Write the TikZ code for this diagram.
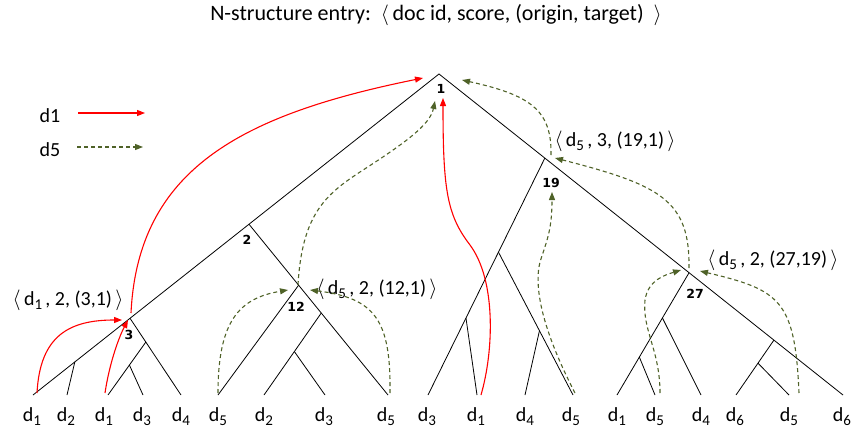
\documentclass[tikz,border=0pt]{standalone}
\usepackage{fontspec}
\setmainfont{Carlito}
\newfontfamily\numfont{DejaVu Sans}
\usetikzlibrary{arrows.meta,calc}
\definecolor{dgreen}{RGB}{79,98,40}
\newcommand{\sbs}[1]{\raisebox{-4pt}{\fontsize{15}{15}\selectfont #1}}
\newcommand{\lang}{$\langle$}
\newcommand{\rang}{$\rangle$}
\begin{document}
\begin{tikzpicture}[x=1pt,y=-1pt,
  tree/.style={draw=black,line width=0.8pt},
  rarr/.style={draw=red,line width=1.1pt,-{Triangle[length=8pt,width=6pt]}},
  garr/.style={draw=dgreen,line width=1.1pt,dash pattern=on 4pt off 3pt,-{Triangle[length=8pt,width=6pt]}},
  lbl/.style={font=\fontsize{20}{20}\selectfont,inner sep=0pt,anchor=base},
  num/.style={font=\fontsize{12.5}{12.5}\selectfont\numfont\bfseries,inner sep=0pt}]
\useasboundingbox (0,0) rectangle (852,434);
% title
\node[lbl,font=\fontsize{22}{22}\selectfont] (title) at (436,20) {N-structure entry:\ \ \lang\,doc id, score, (origin, target)\ \ \rang};
% legend
\node[lbl] (lg1) at (50,122) {d1};
\node[lbl] (lg5) at (50,156) {d5};
\coordinate (lr1s) at (78,113); \coordinate (lr1e) at (145,113);
\coordinate (lg5s) at (77,147); \coordinate (lg5e) at (143,147);
\draw[rarr] (lr1s) -- (lr1e);
\draw[garr] (lg5s) -- (lg5e);
% tree coordinates
\coordinate (R) at (439,74);
\coordinate (LL) at (33,395);
\coordinate (RR) at (843,395);
\coordinate (N2) at ($(R)!0.468!(LL)$);
\coordinate (N3) at ($(R)!0.761!(LL)$);
\coordinate (Jd2) at ($(R)!0.897!(LL)$);
\coordinate (l2) at (67,395);
\coordinate (l3) at (108,395);
\coordinate (l4) at (143,395);
\coordinate (l5) at (181,395);
\coordinate (J3a) at ($(N3)!0.31!(l5)$);
\coordinate (J3b) at ($(J3a)!0.434!(l3)$);
\coordinate (l9) at (388,395);
\coordinate (l6) at (218,395);
\coordinate (l7) at (264,395);
\coordinate (l8) at (325,395);
\coordinate (N12) at ($(N2)!0.357!(l9)$);
\coordinate (J12b) at ($(N2)!0.52!(l9)$);
\coordinate (J12c) at ($(J12b)!0.47!(l7)$);
\coordinate (N19) at ($(R)!0.262!(RR)$);
\coordinate (N27) at ($(R)!0.619!(RR)$);
\coordinate (Jr) at ($(R)!0.829!(RR)$);
\coordinate (l10) at (428,395);
\coordinate (l11) at (477,395);
\coordinate (l12) at (525,395);
\coordinate (l13) at (573,395);
\coordinate (J19a) at ($(N19)!0.397!(l10)$);
\coordinate (J19b) at ($(N19)!0.675!(l10)$);
\coordinate (J19c) at ($(J19a)!0.55!(l13)$);
\coordinate (l14) at (617,395);
\coordinate (l15) at (655,395);
\coordinate (l16) at (701,395);
\coordinate (J27a) at ($(N27)!0.37!(l14)$);
\coordinate (J27b) at ($(N27)!0.69!(l14)$);
\coordinate (l17) at (736,395);
\coordinate (l18) at (789,395);
\coordinate (Jr2) at ($(Jr)!0.42!(l17)$);
% tree lines
\draw[tree] (LL) -- (R) -- (RR);
\draw[tree] (Jd2) -- (l2);
\draw[tree] (N3) -- (l5);
\draw[tree] (J3a) -- (l3);
\draw[tree] (J3b) -- (l4);
\draw[tree] (N2) -- (l9);
\draw[tree] (N12) -- (l6);
\draw[tree] (J12b) -- (l7);
\draw[tree] (J12c) -- (l8);
\draw[tree] (N19) -- (l10);
\draw[tree] (J19a) -- (l13);
\draw[tree] (J19b) -- (l11);
\draw[tree] (J19c) -- (l12);
\draw[tree] (N27) -- (l14);
\draw[tree] (J27a) -- (l16);
\draw[tree] (J27b) -- (l15);
\draw[tree] (Jr) -- (l17);
\draw[tree] (Jr2) -- (l18);
% node numbers
\node[num] (n1) at (441,89) {1};
\node[num] (n2) at (247,240) {2};
\node[num] (n3) at (129,335) {3};
\node[num] (n12) at (296,307) {12};
\node[num] (n19) at (551,183) {19};
\node[num] (n27) at (695,294) {27};
% leaf labels
\node[lbl] (t1) at (32,421) {d\sbs{1}};
\node[lbl] (t2) at (66,421) {d\sbs{2}};
\node[lbl] (t3) at (104,421) {d\sbs{1}};
\node[lbl] (t4) at (142,421) {d\sbs{3}};
\node[lbl] (t5) at (181,421) {d\sbs{4}};
\node[lbl] (t6) at (218,421) {d\sbs{5}};
\node[lbl] (t7) at (264,421) {d\sbs{2}};
\node[lbl] (t8) at (324,421) {d\sbs{3}};
\node[lbl] (t9) at (386,421) {d\sbs{5}};
\node[lbl] (t10) at (427,421) {d\sbs{3}};
\node[lbl] (t11) at (476,421) {d\sbs{1}};
\node[lbl] (t12) at (525,421) {d\sbs{4}};
\node[lbl] (t13) at (571,421) {d\sbs{5}};
\node[lbl] (t14) at (617,421) {d\sbs{1}};
\node[lbl] (t15) at (655,421) {d\sbs{5}};
\node[lbl] (t16) at (701,421) {d\sbs{4}};
\node[lbl] (t17) at (735,421) {d\sbs{6}};
\node[lbl] (t18) at (789,421) {d\sbs{5}};
\node[lbl] (t19) at (842,421) {d\sbs{6}};
% annotations
\node[lbl] (a1) at (68,305) {\lang\,d\sbs{1}\,, 2, (3,1)\,\rang};
\node[lbl] (a2) at (377,294) {\lang\,d\sbs{5}\,, 2, (12,1)\,\rang};
\node[lbl] (a3) at (615,146) {\lang\,d\sbs{5}\,, 3, (19,1)\,\rang};
\node[lbl] (a4) at (773,265) {\lang\,d\sbs{5}\,, 2, (27,19)\,\rang};
% arrow endpoints
\coordinate (r1s) at (37,393); \coordinate (r1e) at (122,320);
\coordinate (r2s) at (105,393); \coordinate (r2e) at (128,320);
\coordinate (r3s) at (131,313); \coordinate (r3e) at (423,78);
\coordinate (r4s) at (481,395); \coordinate (r4m) at (470,245); \coordinate (r4e) at (443,98);
\coordinate (g1s) at (218,393); \coordinate (g1e) at (288,290);
\coordinate (g2s) at (390,393); \coordinate (g2e) at (310,290);
\coordinate (g3s) at (298,285); \coordinate (g3m) at (360,172); \coordinate (g3e) at (435,101);
\coordinate (g4s) at (575,393); \coordinate (g4m) at (540,262); \coordinate (g4e) at (552,192);
\coordinate (g5s) at (551,155); \coordinate (g5e) at (462,80);
\coordinate (g6s) at (689,268); \coordinate (g6e) at (555,158);
\coordinate (g7s) at (660,393); \coordinate (g7m) at (645,300); \coordinate (g7e) at (681,270);
\coordinate (g8s) at (799,393); \coordinate (g8e) at (700,271);
% red arrows
\draw[rarr] (r1s) .. controls (40,335) and (70,320) .. (r1e);
\draw[rarr] (r2s) .. controls (110,360) and (120,335) .. (r2e);
\draw[rarr] (r3s) .. controls (138,170) and (240,115) .. (r3e);
\draw[rarr] (r4s) .. controls (494,350) and (496,280) .. (r4m) .. controls (447,215) and (443,190) .. (r4e);
% green arrows
\draw[garr] (g1s) .. controls (218,320) and (240,298) .. (g1e);
\draw[garr] (g2s) .. controls (391,320) and (375,298) .. (g2e);
\draw[garr] (g3s) .. controls (302,215) and (325,195) .. (g3m) .. controls (405,143) and (430,125) .. (g3e);
\draw[garr] (g4s) .. controls (545,335) and (533,290) .. (g4m) .. controls (547,240) and (552,230) .. (g4e);
\draw[garr] (g5s) .. controls (552,110) and (530,95) .. (g5e);
\draw[garr] (g6s) .. controls (690,200) and (660,185) .. (g6e);
\draw[garr] (g7s) .. controls (660,350) and (642,330) .. (g7m) .. controls (648,280) and (665,275) .. (g7e);
\draw[garr] (g8s) .. controls (795,300) and (780,290) .. (g8e);
\end{tikzpicture}
\end{document}
